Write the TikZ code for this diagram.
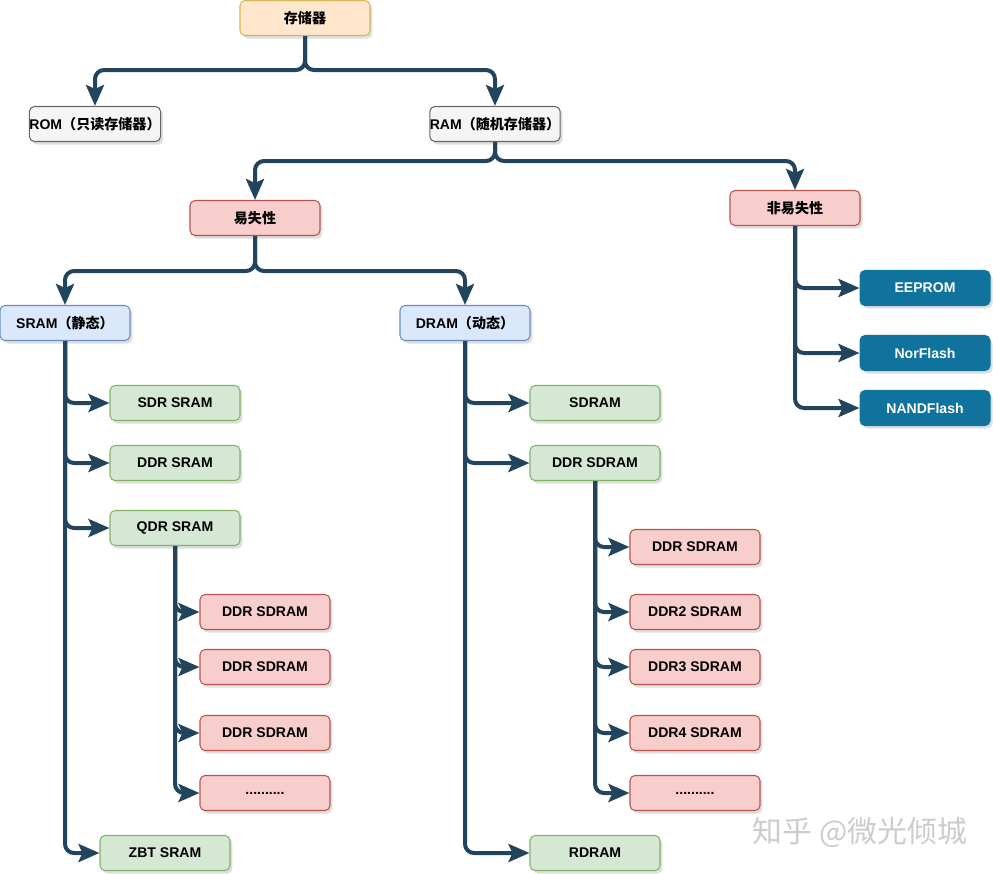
\documentclass[tikz,border=0pt]{standalone}
\usepackage{fontspec}
\setmainfont{Liberation Sans}
\newfontfamily\cjk{Noto Sans CJK SC}
\usetikzlibrary{arrows.meta,shadows}
\definecolor{edgeblue}{HTML}{23445D}
\definecolor{orangefill}{HTML}{FFE6CC}
\definecolor{orangeline}{HTML}{D6B656}
\definecolor{grayfill}{HTML}{F5F5F5}
\definecolor{grayline}{HTML}{666666}
\definecolor{redfill}{HTML}{F8CECC}
\definecolor{redline}{HTML}{B85450}
\definecolor{bluefill}{HTML}{DAE8FC}
\definecolor{blueline}{HTML}{6C8EBF}
\definecolor{greenfill}{HTML}{D5E8D4}
\definecolor{greenline}{HTML}{82B366}
\definecolor{tealfill}{HTML}{10739E}

\begin{document}
\begin{tikzpicture}[x=0.02cm,y=-0.02cm,
	box/.style={rounded corners=0.1cm,minimum width=2.6cm,minimum height=0.7cm,inner xsep=0pt,line width=0.6pt,font=\fontsize{8}{9}\selectfont\bfseries,drop shadow={shadow xshift=0.05cm,shadow yshift=-0.06cm,opacity=0.25}},
	orangebox/.style={box,draw=orangeline,fill=orangefill},
	graybox/.style={box,draw=grayline,fill=grayfill},
	redbox/.style={box,draw=redline,fill=redfill},
	bluebox/.style={box,draw=blueline,fill=bluefill},
	greenbox/.style={box,draw=greenline,fill=greenfill},
	tealbox/.style={box,draw=tealfill,fill=tealfill,text=white},
	edge/.style={draw=edgeblue,line width=0.08cm,rounded corners=0.18cm,-{Stealth[length=0.42cm,width=0.36cm,inset=0.08cm]}}]
	\useasboundingbox (0,0) rectangle (993,873);
	\node[orangebox] (1) at (305,18) {\cjk 存储器};
	\node[graybox] (2) at (95,124) {ROM\cjk（只读存储器）};
	\node[graybox] (3) at (495,124) {RAM\cjk（随机存储器）};
	\node[redbox] (4) at (255,218) {\cjk 易失性};
	\node[redbox] (5) at (795,208) {\cjk 非易失性};
	\node[bluebox] (6) at (65,323) {SRAM\cjk（静态）};
	\node[bluebox] (7) at (465,323) {DRAM\cjk（动态）};
	\node[greenbox] (8) at (175,403) {SDR SRAM};
	\node[greenbox] (9) at (175,463) {DDR SRAM};
	\node[greenbox] (10) at (175,528) {QDR SRAM};
	\node[redbox] (11) at (265,612) {DDR SDRAM};
	\node[redbox] (12) at (265,667) {DDR SDRAM};
	\node[redbox] (13) at (265,733) {DDR SDRAM};
	\node[redbox] (14) at (265,793) {..........};
	\node[greenbox] (15) at (165,853) {ZBT SRAM};
	\node[greenbox] (16) at (595,403) {SDRAM};
	\node[greenbox] (17) at (595,463) {DDR SDRAM};
	\node[redbox] (18) at (695,547) {DDR SDRAM};
	\node[redbox] (19) at (695,612) {DDR2 SDRAM};
	\node[redbox] (20) at (695,667) {DDR3 SDRAM};
	\node[redbox] (21) at (695,733) {DDR4 SDRAM};
	\node[redbox] (22) at (695,793) {..........};
	\node[greenbox] (23) at (595,853) {RDRAM};
	\node[tealbox] (24) at (925,288) {EEPROM};
	\node[tealbox] (25) at (925,353) {NorFlash};
	\node[tealbox] (26) at (925,408) {NANDFlash};
	\node[text=black!20,font=\cjk\fontsize{17}{17}\selectfont] (27) at (860,833) {知乎 @微光倾城};
	\draw[edge] (1.south) -- ++(0,34) -| (2.north);
	\draw[edge] (1.south) -- ++(0,34) -| (3.north);
	\draw[edge] (3.south) -- ++(0,19) -| (4.north);
	\draw[edge] (3.south) -- ++(0,19) -| (5.north);
	\draw[edge] (4.south) -- ++(0,35) -| (6.north);
	\draw[edge] (4.south) -- ++(0,35) -| (7.north);
	\draw[edge] (6.south) |- (8.west);
	\draw[edge] (6.south) |- (9.west);
	\draw[edge] (6.south) |- (10.west);
	\draw[edge] (6.south) |- (15.west);
	\draw[edge] (10.south) |- (11.west);
	\draw[edge] (10.south) |- (12.west);
	\draw[edge] (10.south) |- (13.west);
	\draw[edge] (10.south) |- (14.west);
	\draw[edge] (7.south) |- (16.west);
	\draw[edge] (7.south) |- (17.west);
	\draw[edge] (7.south) |- (23.west);
	\draw[edge] (17.south) |- (18.west);
	\draw[edge] (17.south) |- (19.west);
	\draw[edge] (17.south) |- (20.west);
	\draw[edge] (17.south) |- (21.west);
	\draw[edge] (17.south) |- (22.west);
	\draw[edge] (5.south) |- (24.west);
	\draw[edge] (5.south) |- (25.west);
	\draw[edge] (5.south) |- (26.west);
\end{tikzpicture}
\end{document}
